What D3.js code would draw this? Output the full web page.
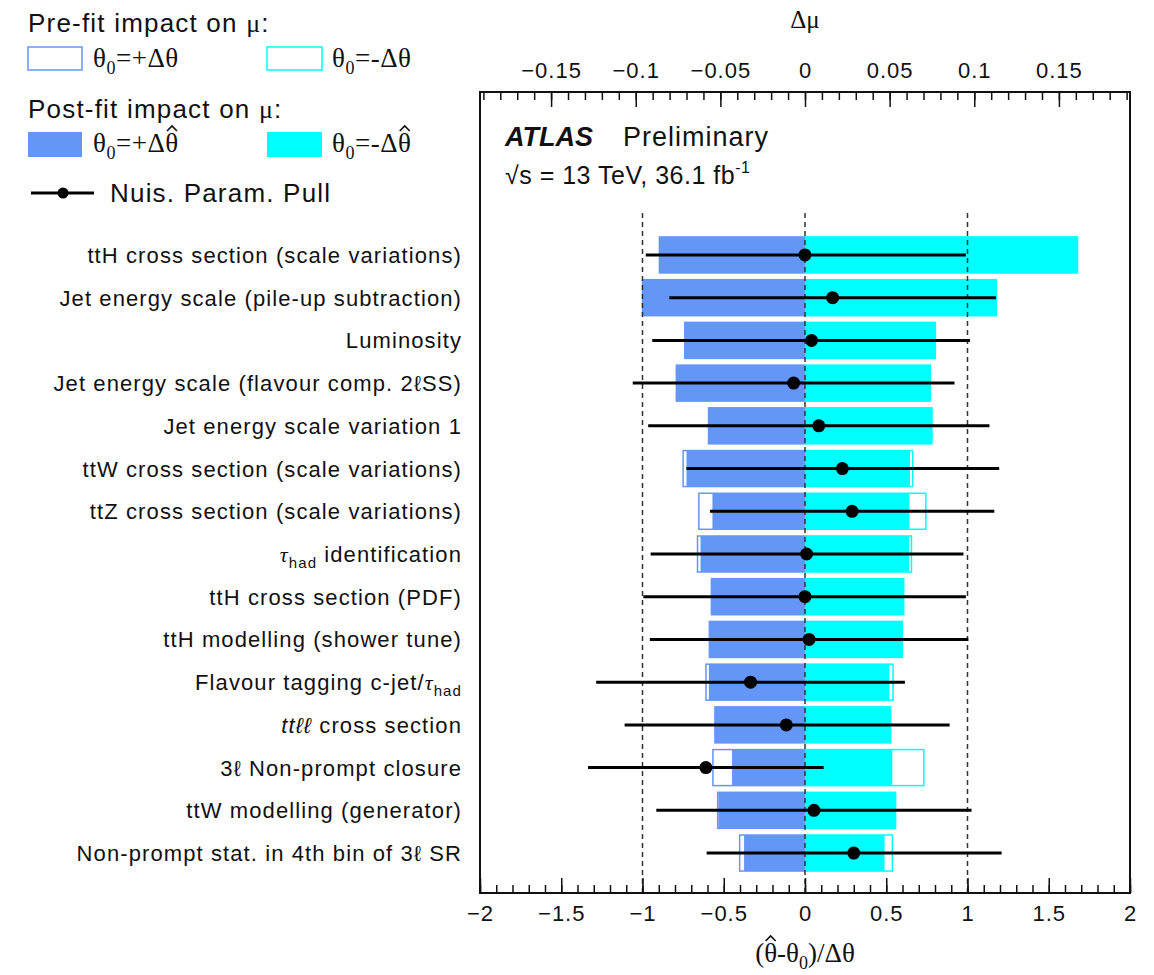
<!DOCTYPE html>
<html>
<head>
<meta charset="utf-8">
<script src="https://cdn.jsdelivr.net/npm/d3@7"></script>
<style>
  body { margin: 0; background: #fff; }
  text { font-family: "Liberation Sans", Arial, sans-serif; fill: #111; }
  .serif { font-family: "Liberation Serif", "Times New Roman", serif; }
</style>
</head>
<body>
<div class="chart"></div>
<script>
// nuisance parameters, ranked by impact
const categories = [
  'ttH cross section (scale variations)',
  'Jet energy scale (pile-up subtraction)',
  'Luminosity',
  'Jet energy scale (flavour comp. 2\u2113SS)',
  'Jet energy scale variation 1',
  'ttW cross section (scale variations)',
  'ttZ cross section (scale variations)',
  'τ_{had} identification',
  'ttH cross section (PDF)',
  'ttH modelling (shower tune)',
  'Flavour tagging c-jet/τ_{had}',
  '*tt\u2113\u2113* cross section',
  '3\u2113 Non-prompt closure',
  'ttW modelling (generator)',
  'Non-prompt stat. in 4th bin of 3\u2113 SR'
];

// impact on mu (delta mu)
const postfitPlus  = [-0.086, -0.096, -0.071, -0.076, -0.057, -0.070, -0.0547, -0.0617, -0.0553, -0.0565, -0.0568, -0.0532, -0.0431, -0.0512, -0.036];
const postfitMinus = [0.161, 0.113, 0.077, 0.074, 0.075, 0.062, 0.0617, 0.0615, 0.0583, 0.0575, 0.0498, 0.0506, 0.0516, 0.0532, 0.047];
const prefitPlus   = [-0.086, -0.096, -0.071, -0.076, -0.057, -0.072, -0.0627, -0.0635, -0.0553, -0.0565, -0.0585, -0.0532, -0.0544, -0.0516, -0.0386];
const prefitMinus  = [0.161, 0.113, 0.077, 0.074, 0.075, 0.0636, 0.0714, 0.0629, 0.0583, 0.0575, 0.052, 0.0506, 0.0702, 0.0535, 0.0516];

// pulls (theta_hat - theta_0)/delta theta
const pulls     = [0.00, 0.17, 0.04, -0.07, 0.085, 0.23, 0.29, 0.01, 0.00, 0.025, -0.335, -0.115, -0.61, 0.055, 0.30];
const pullLow   = [-0.98, -0.835, -0.94, -1.06, -0.965, -0.73, -0.585, -0.95, -0.995, -0.955, -1.285, -1.11, -1.335, -0.915, -0.605];
const pullHigh  = [0.99, 1.175, 1.015, 0.92, 1.135, 1.195, 1.165, 0.975, 0.99, 1.005, 0.615, 0.89, 0.115, 1.025, 1.21];

const pullTicks = [-2, -1.5, -1, -0.5, 0, 0.5, 1, 1.5, 2];
const muTicks = [-0.15, -0.1, -0.05, 0, 0.05, 0.1, 0.15];
const refLines = [-1, 0, 1];

const svgWidth = 1154,
  svgHeight = 975,
  frameLeft = 480,
  frameRight = 1130,
  frameTop = 92,
  frameBottom = 893,
  blueColor = '#6496f8',
  cyanColor = '#00ffff';

const rows = categories.map((name, i) => ({
  name,
  postPlus: postfitPlus[i], postMinus: postfitMinus[i],
  prePlus: prefitPlus[i], preMinus: prefitMinus[i],
  pull: pulls[i], lo: pullLow[i], hi: pullHigh[i]
}));

const svg = d3.select('.chart')
  .append('svg')
  .attr('width', svgWidth)
  .attr('height', svgHeight);

const xScale = d3.scaleLinear()
  .domain([-2, 2])
  .range([frameLeft, frameRight]);

const muScale = d3.scaleLinear()
  .domain([-0.192, 0.192])
  .range([frameLeft, frameRight]);

const yScale = d3.scaleBand()
  .domain(categories)
  .range([233.6, 874.4])
  .paddingInner(0.157)
  .paddingOuter(0.0785);

// small TLatex-like helper: _{..} subscript, *..* italic, tau italic
function richText(sel, str, subSize) {
  const parts = str.split(/(_\{[^}]*\}|\*[^*]*\*|τ)/).filter(s => s);
  let shift = 0;
  parts.forEach(p => {
    const t = sel.append('tspan');
    let dy = -shift;
    shift = 0;
    if (p.startsWith('_{')) {
      t.text(p.slice(2, -1)).attr('font-size', subSize);
      dy += 6; shift = 6;
    } else if (p.startsWith('*')) {
      t.text(p.slice(1, -1)).attr('font-style', 'italic');
    } else if (p === 'τ') {
      t.text(p).attr('font-style', 'italic').attr('class', 'serif');
    } else {
      t.text(p);
    }
    if (dy) t.attr('dy', dy);
  });
}

// draws a hat over one character of a text element
function addHat(textSel, charIndex, baseY) {
  const ext = textSel.node().getExtentOfChar(charIndex);
  const cx = ext.x + ext.width / 2;
  svg.append('path')
    .attr('d', `M${cx - 5},${baseY - 21} L${cx},${baseY - 26} L${cx + 5},${baseY - 21}`)
    .attr('fill', 'none')
    .attr('stroke', '#111')
    .attr('stroke-width', 1.6);
}

// pre-fit outlines
const preG = svg.append('g');
['prePlus', 'preMinus'].forEach(key => {
  preG.selectAll(null)
    .data(rows)
    .enter()
    .append('rect')
    .attr('x', d => muScale(Math.min(0, d[key])))
    .attr('y', d => yScale(d.name))
    .attr('width', d => Math.abs(muScale(d[key]) - muScale(0)))
    .attr('height', yScale.bandwidth())
    .attr('fill', '#fff')
    .attr('stroke', key === 'prePlus' ? blueColor : cyanColor)
    .attr('stroke-width', 1.5);
});

// post-fit filled bars
const postG = svg.append('g');
['postPlus', 'postMinus'].forEach(key => {
  postG.selectAll(null)
    .data(rows)
    .enter()
    .append('rect')
    .attr('x', d => muScale(Math.min(0, d[key])))
    .attr('y', d => yScale(d.name))
    .attr('width', d => Math.abs(muScale(d[key]) - muScale(0)))
    .attr('height', yScale.bandwidth())
    .attr('fill', key === 'postPlus' ? blueColor : cyanColor);
});

// dashed reference lines
svg.append('g')
  .selectAll('line')
  .data(refLines)
  .enter()
  .append('line')
  .attr('x1', d => xScale(d))
  .attr('x2', d => xScale(d))
  .attr('y1', 213)
  .attr('y2', frameBottom)
  .attr('stroke', '#333')
  .attr('stroke-width', 1.5)
  .attr('stroke-dasharray', '5,4');

// pulls
const pullG = svg.append('g');
pullG.selectAll('line')
  .data(rows)
  .enter()
  .append('line')
  .attr('x1', d => xScale(d.lo))
  .attr('x2', d => xScale(d.hi))
  .attr('y1', d => yScale(d.name) + yScale.bandwidth() / 2)
  .attr('y2', d => yScale(d.name) + yScale.bandwidth() / 2)
  .attr('stroke', '#000')
  .attr('stroke-width', 3);

pullG.selectAll('circle')
  .data(rows)
  .enter()
  .append('circle')
  .attr('cx', d => xScale(d.pull))
  .attr('cy', d => yScale(d.name) + yScale.bandwidth() / 2)
  .attr('r', 6.5)
  .attr('fill', '#000');

// frame
svg.append('rect')
  .attr('x', frameLeft)
  .attr('y', frameTop)
  .attr('width', frameRight - frameLeft)
  .attr('height', frameBottom - frameTop)
  .attr('fill', 'none')
  .attr('stroke', '#111')
  .attr('stroke-width', 2);

// axes
const bottomAxis = d3.axisBottom(xScale)
  .tickValues(pullTicks)
  .tickSize(-15)
  .tickPadding(12)
  .tickFormat(d3.format('~g'));

const bottomMinor = d3.axisBottom(xScale)
  .tickValues(d3.range(-20, 21).map(d => d / 10))
  .tickSize(-8)
  .tickFormat('');

const topAxis = d3.axisTop(muScale)
  .tickValues(muTicks)
  .tickSize(-15)
  .tickPadding(14)
  .tickFormat(d3.format('~g'));

const topMinor = d3.axisTop(muScale)
  .tickValues(d3.range(-19, 20).map(d => d / 100))
  .tickSize(-8)
  .tickFormat('');

[[bottomMinor, frameBottom], [bottomAxis, frameBottom], [topMinor, frameTop], [topAxis, frameTop]].forEach(([ax, y]) => {
  const g = svg.append('g')
    .attr('transform', `translate(0, ${y})`)
    .call(ax);
  g.select('.domain').remove();
  g.selectAll('line').attr('stroke', '#111').attr('stroke-width', 1.5);
  g.selectAll('text')
    .style('font', '22px "Liberation Sans", Arial, sans-serif')
    .style('letter-spacing', '1px')
    .attr('fill', '#111');
});

// category labels
svg.append('g')
  .selectAll('text')
  .data(categories)
  .enter()
  .append('text')
  .attr('x', 462)
  .attr('y', d => yScale(d) + yScale.bandwidth() / 2 + 8)
  .attr('text-anchor', 'end')
  .style('font-size', '22px')
  .style('letter-spacing', '1.1px')
  .each(function (d) { richText(d3.select(this), d, '15px'); });

// axis titles
svg.append('text')
  .attr('class', 'serif')
  .attr('x', 805)
  .attr('y', 28)
  .attr('text-anchor', 'middle')
  .style('font-size', '25px')
  .text('Δμ');

const pullTitle = svg.append('text')
  .attr('class', 'serif')
  .attr('x', 805)
  .attr('y', 962)
  .attr('text-anchor', 'middle')
  .style('font-size', '27px');
pullTitle.append('tspan').text('(θ-θ');
pullTitle.append('tspan').text('0').attr('dy', 7).style('font-size', '18px');
pullTitle.append('tspan').text(')/Δθ').attr('dy', -7);
addHat(pullTitle, 1, 962);

// ATLAS label
const atlas = svg.append('text')
  .attr('x', 505)
  .attr('y', 146)
  .style('font-size', '27px');
atlas.append('tspan').text('ATLAS').attr('font-weight', 'bold').attr('font-style', 'italic');
atlas.append('tspan').text('Preliminary').attr('x', 623).style('letter-spacing', '1px');

const energy = svg.append('text')
  .attr('x', 505)
  .attr('y', 184)
  .style('font-size', '25px')
  .style('letter-spacing', '0.5px');
energy.append('tspan').text('\u221As = 13 TeV, 36.1 fb');
energy.append('tspan').text('-1').attr('dy', -11).style('font-size', '16px');

// legend
const legend = svg.append('g');

function legendHeader(y, label) {
  const t = legend.append('text')
    .attr('x', 28)
    .attr('y', y)
    .style('font-size', '26px')
    .style('letter-spacing', '1.2px');
  t.append('tspan').text(label);
  t.append('tspan').text('μ').attr('class', 'serif');
  t.append('tspan').text(':');
}

function thetaLabel(x, y, sign, hat) {
  const t = legend.append('text')
    .attr('class', 'serif')
    .attr('x', x)
    .attr('y', y)
    .style('font-size', '27px')
    .style('letter-spacing', '0.5px');
  t.append('tspan').text('θ');
  t.append('tspan').text('0').attr('dy', 7).style('font-size', '18px');
  t.append('tspan').text('=' + sign + 'Δθ').attr('dy', -7);
  if (hat) addHat(t, 5, y);
}

legendHeader(32, 'Pre-fit impact on ');
legend.append('rect').attr('x', 28).attr('y', 47).attr('width', 54).attr('height', 23)
  .attr('fill', '#fff').attr('stroke', blueColor).attr('stroke-width', 1.5);
thetaLabel(93, 67, '+', false);
legend.append('rect').attr('x', 267).attr('y', 47).attr('width', 55).attr('height', 23)
  .attr('fill', '#fff').attr('stroke', cyanColor).attr('stroke-width', 1.5);
thetaLabel(332, 67, '-', false);

legendHeader(118, 'Post-fit impact on ');
legend.append('rect').attr('x', 28).attr('y', 132).attr('width', 54).attr('height', 25)
  .attr('fill', blueColor);
thetaLabel(93, 152, '+', true);
legend.append('rect').attr('x', 267).attr('y', 132).attr('width', 55).attr('height', 25)
  .attr('fill', cyanColor);
thetaLabel(332, 152, '-', true);

legend.append('line')
  .attr('x1', 31).attr('x2', 94).attr('y1', 193).attr('y2', 193)
  .attr('stroke', '#000').attr('stroke-width', 3);
legend.append('circle')
  .attr('cx', 63).attr('cy', 193).attr('r', 5.5).attr('fill', '#000');
legend.append('text')
  .attr('x', 110)
  .attr('y', 202)
  .style('font-size', '26px')
  .style('letter-spacing', '1.2px')
  .text('Nuis. Param. Pull');
</script>
</body>
</html>
